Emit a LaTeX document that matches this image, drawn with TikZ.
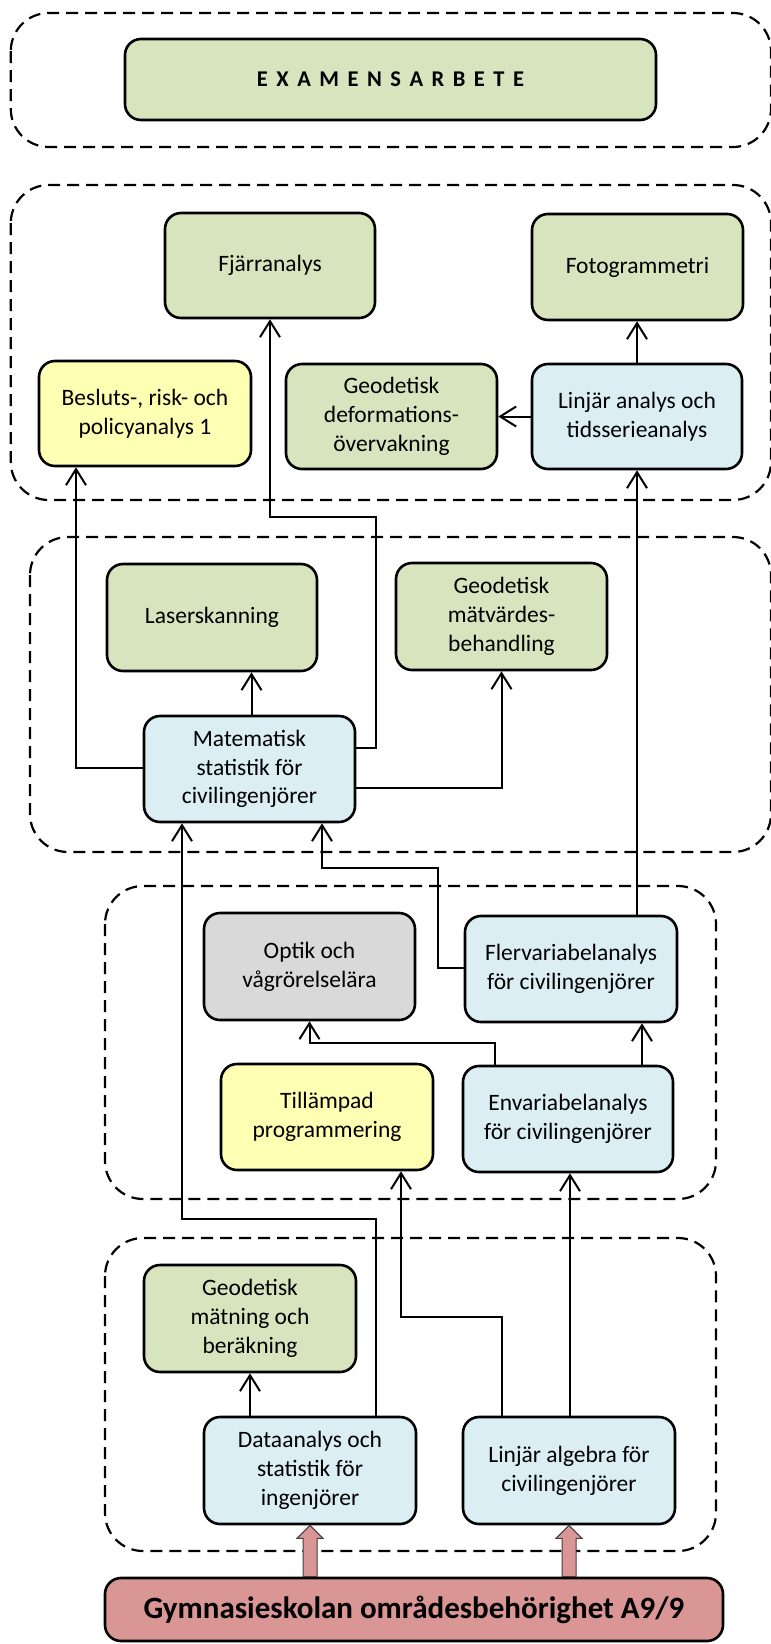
\documentclass[tikz,border=0pt]{standalone}
\usepackage{fontspec}
\setmainfont{Carlito}
\usetikzlibrary{arrows.meta,calc}
\definecolor{cgreen}{HTML}{D7E4BD}
\definecolor{cyellow}{HTML}{FFFFB3}
\definecolor{cblue}{HTML}{DBEEF4}
\definecolor{cgray}{HTML}{D9D9D9}
\definecolor{cpink}{HTML}{D99694}
\newcommand{\ls}{\hspace{8.5pt}}
\begin{document}
\begin{tikzpicture}[x=1pt,y=-1pt,
  group/.style={draw, line width=2.2pt, dash pattern=on 12pt off 7pt, rounded corners=38pt},
  course/.style={draw, line width=2.6pt, rounded corners=16pt, align=center, inner sep=0pt,
    font=\fontsize{23.5}{28.7}\selectfont, minimum width=211pt, minimum height=106pt},
  green/.style={course, fill=cgreen},
  yellow/.style={course, fill=cyellow},
  blue/.style={course, fill=cblue},
  gray/.style={course, fill=cgray},
  conn/.style={line width=2pt, -{Straight Barb[length=16pt,width=20pt,line width=2pt]}},
  fatarrow/.style={draw=black!75, line width=1pt, fill=cpink}]
\useasboundingbox (0,0) rectangle (771,1644);

% course groups (semesters)
\draw[group] (10.8,13) rectangle (771,147);
\draw[group] (10.8,185) rectangle (771,500);
\draw[group] (30,537) rectangle (771,852);
\draw[group] (105,886) rectangle (716,1199);
\draw[group] (105,1238) rectangle (716,1551);

% courses
\node[green, minimum width=531pt, minimum height=81pt,
  font=\fontsize{22.5}{27}\selectfont\bfseries] (exam) at (390.5,79.5)
  {E\ls X\ls A\ls M\ls E\ls N\ls S\ls A\ls R\ls B\ls E\ls T\ls E};

\node[green, minimum width=210pt, minimum height=105pt] (fjarr) at (270,265.5) {Fjärranalys};
\node[green] (foto) at (637.5,267) {Fotogrammetri};
\node[yellow, minimum width=212pt, minimum height=105pt] (besl) at (145,413.5) {Besluts-, risk- och\\policyanalys 1};
\node[green, minimum height=105pt] (gdef) at (391.5,416.5) {Geodetisk\\deformations-\\övervakning};
\node[blue, minimum width=210pt, minimum height=105pt] (linan) at (637,416.5) {Linjär analys och\\tidsserieanalys};

\node[green, minimum width=210pt, minimum height=107pt] (laser) at (212,617.5) {Laserskanning};
\node[green, minimum height=107pt] (gmat) at (501.5,616.5) {Geodetisk\\mätvärdes-\\behandling};
\node[blue] (mat) at (249.5,769) {Matematisk\\statistik för\\civilingenjörer};

\node[gray, minimum height=107pt] (optik) at (309.5,966.5) {Optik och\\vågrörelselära};
\node[blue, minimum width=212pt] (flerv) at (571,969) {Flervariabelanalys\\för civilingenjörer};
\node[yellow, minimum width=212pt] (till) at (327,1117) {Tillämpad\\programmering};
\node[blue, minimum width=210pt] (env) at (568,1119) {Envariabelanalys\\för civilingenjörer};

\node[green, minimum width=212pt, minimum height=107pt] (gmatn) at (250,1318.5) {Geodetisk\\mätning och\\beräkning};
\node[blue, minimum width=212pt, minimum height=107pt] (dat) at (310,1470.5) {Dataanalys och\\statistik för\\ingenjörer};
\node[blue, minimum width=212pt, minimum height=107pt] (linalg) at (569,1470.5) {Linjär algebra för\\civilingenjörer};

\node[course, fill=cpink, minimum width=618pt, minimum height=63pt,
  font=\fontsize{31}{36}\selectfont\bfseries] (gym) at (414,1609.5)
  {Gymnasieskolan områdesbehörighet A9/9};

% prerequisites
\draw[conn] (linan.west) -- (gdef.east);
\draw[conn] (linan.north) -- (linan.north |- foto.south);
\draw[conn] ([xshift=2pt]mat.north) -- ([xshift=2pt]mat.north |- laser.south);
\draw[conn] ([yshift=1pt]mat.west) -| ([xshift=-69pt]besl.south);
\draw[conn] ([yshift=21pt]mat.east) -| (376,517) -| (fjarr.south);
\draw[conn] ([yshift=-19pt]mat.east) -| (gmat.south);
\draw[conn] (linan.south |- flerv.north) -- (linan.south);
\draw[conn] ([yshift=1pt]flerv.west) -| (438,868) -| ([xshift=72.5pt]mat.south);
\draw[conn] ([xshift=74pt]env.north) -- ([xshift=74pt]env.north |- flerv.south);
\draw[conn] ([xshift=-73pt]env.north) |- (400,1043) -| (optik.south);
\draw[conn] ([xshift=66pt]dat.north) |- (250,1219) -| ([xshift=-67.5pt]mat.south);
\draw[conn] (gmatn.south |- dat.north) -- (gmatn.south);
\draw[conn] ([xshift=-67pt]linalg.north) |- (450,1317) -| ([xshift=74pt]till.south);
\draw[conn] ([xshift=1pt]linalg.north) -- ([xshift=1pt]linalg.north |- env.south);

% entry requirements
\draw[fatarrow] let \p1=(dat.south), \p2=(gym.north) in
  (\x1-7pt,\y2) -- (\x1-7pt,\y1-13pt) -- (\x1-13pt,\y1-13pt) -- (\x1,\y1)
  -- (\x1+13pt,\y1-13pt) -- (\x1+7pt,\y1-13pt) -- (\x1+7pt,\y2) -- cycle;
\draw[fatarrow] let \p1=(linalg.south), \p2=(gym.north) in
  (\x1-7pt,\y2) -- (\x1-7pt,\y1-13pt) -- (\x1-13pt,\y1-13pt) -- (\x1,\y1)
  -- (\x1+13pt,\y1-13pt) -- (\x1+7pt,\y1-13pt) -- (\x1+7pt,\y2) -- cycle;
\end{tikzpicture}
\end{document}
